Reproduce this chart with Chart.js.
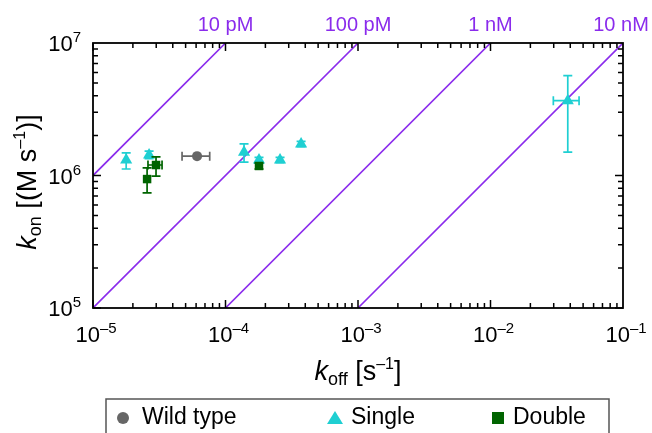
<!DOCTYPE html>
<html>
<head>
<meta charset="utf-8">
<script src="https://cdn.jsdelivr.net/npm/chart.js@4.4.1/dist/chart.umd.min.js"></script>
<style>
  html, body { margin: 0; padding: 0; background: #fff; }
  #wrap { width: 652px; height: 433px; }
</style>
</head>
<body>
<div id="wrap"><canvas id="grafica" width="652" height="433"></canvas></div>
<script>
// datos: koff [s^-1], kon [M^-1 s^-1], con limites de error
const wildKoff   = [6.1e-5];
const wildKon    = [1.40e6];
const wildKoffLo = [4.7e-5];
const wildKoffHi = [7.6e-5];
const wildKonLo  = [1.40e6];
const wildKonHi  = [1.40e6];

const singleKoff   = [1.78e-5, 2.65e-5, 1.38e-4, 1.79e-4, 2.58e-4, 3.72e-4, 3.83e-2];
const singleKon    = [1.31e6, 1.43e6, 1.50e6, 1.31e6, 1.31e6, 1.73e6, 3.67e6];
const singleKoffLo = [1.78e-5, 2.65e-5, 1.38e-4, 1.79e-4, 2.58e-4, 3.72e-4, 2.98e-2];
const singleKoffHi = [1.78e-5, 2.65e-5, 1.38e-4, 1.79e-4, 2.58e-4, 3.72e-4, 4.66e-2];
const singleKonLo  = [1.12e6, 1.34e6, 1.26e6, 1.25e6, 1.25e6, 1.65e6, 1.50e6];
const singleKonHi  = [1.48e6, 1.53e6, 1.73e6, 1.37e6, 1.37e6, 1.81e6, 5.67e6];

const doubleKoff   = [2.56e-5, 2.99e-5, 1.79e-4];
const doubleKon    = [9.4e5, 1.20e6, 1.18e6];
const doubleKoffLo = [2.56e-5, 2.60e-5, 1.79e-4];
const doubleKoffHi = [2.56e-5, 3.32e-5, 1.79e-4];
const doubleKonLo  = [7.4e5, 9.9e5, 1.12e6];
const doubleKonHi  = [1.14e6, 1.38e6, 1.24e6];

// lineas de KD constante (kon = koff / KD)
const kdValues = [1e-11, 1e-10, 1e-9, 1e-8];
const kdLabels = ['10 pM', '100 pM', '1 nM', '10 nM'];

// ticks
const xExps = [-5, -4, -3, -2, -1];
const yExps = [5, 6, 7];

const seriesNames = ['Wild type', 'Single', 'Double'];

// colores
const PURPLE = '#8a2bec';
const GRAY = '#666666';
const CYAN = '#1fcfd2';
const GREEN = '#006400';
const FONT = '"Liberation Sans", Arial, sans-serif';

function pts(xs, ys) {
    return xs.map((x, i) => ({ x: x, y: ys[i] }));
}

// datasets de las lineas diagonales (van debajo de los puntos)
const kdSets = kdValues.map(kd => ({
    type: 'line',
    data: [{ x: 1e-6, y: 1e-6 / kd }, { x: 1, y: 1 / kd }],
    borderColor: PURPLE,
    borderWidth: 1.6,
    pointRadius: 0,
    showLine: true,
    fill: false
}));

// texto con sub/superindices
function drawRich(ctx, parts, x, y, align) {
    let w = 0;
    parts.forEach(p => {
        ctx.font = (p[2] ? 'italic ' : '') + p[1] + 'px ' + FONT;
        w += ctx.measureText(p[0]).width;
    });
    let cx = x;
    if (align === 'center') cx = x - w / 2;
    if (align === 'right') cx = x - w;
    ctx.textAlign = 'left';
    ctx.textBaseline = 'alphabetic';
    parts.forEach(p => {
        ctx.font = (p[2] ? 'italic ' : '') + p[1] + 'px ' + FONT;
        ctx.fillText(p[0], cx, y + p[3]);
        cx += ctx.measureText(p[0]).width;
    });
}

function expText(n) {
    return n < 0 ? '\u2013' + (-n) : String(n);
}

// barras de error
const errorBars = {
    id: 'errorBars',
    beforeDatasetDraw(chart, args) {
        const ds = chart.data.datasets[args.index];
        if (!ds.err) return;
        const xs = chart.scales.x, ys = chart.scales.y, ctx = chart.ctx;
        const cap = 4.5;
        ctx.save();
        ctx.strokeStyle = ds.borderColor;
        ctx.lineWidth = 1.7;
        ds.data.forEach((p, i) => {
            const px = xs.getPixelForValue(p.x), py = ys.getPixelForValue(p.y);
            const x1 = xs.getPixelForValue(ds.err.xLo[i]);
            const x2 = xs.getPixelForValue(ds.err.xHi[i]);
            const y1 = ys.getPixelForValue(ds.err.yLo[i]);
            const y2 = ys.getPixelForValue(ds.err.yHi[i]);
            ctx.beginPath();
            if (x2 - x1 > 1) {
                ctx.moveTo(x1, py); ctx.lineTo(x2, py);
                ctx.moveTo(x1, py - cap); ctx.lineTo(x1, py + cap);
                ctx.moveTo(x2, py - cap); ctx.lineTo(x2, py + cap);
            }
            if (y1 - y2 > 1) {
                ctx.moveTo(px, y1); ctx.lineTo(px, y2);
                ctx.moveTo(px - cap, y1); ctx.lineTo(px + cap, y1);
                ctx.moveTo(px - cap, y2); ctx.lineTo(px + cap, y2);
            }
            ctx.stroke();
        });
        ctx.restore();
    }
};

// marco, ticks, etiquetas y leyenda
const decor = {
    id: 'decor',
    afterDraw(chart) {
        const ctx = chart.ctx, a = chart.chartArea;
        const xs = chart.scales.x, ys = chart.scales.y;
        ctx.save();

        // marco
        ctx.strokeStyle = '#000';
        ctx.lineWidth = 1.8;
        ctx.strokeRect(a.left, a.top, a.right - a.left, a.bottom - a.top);

        // ticks hacia dentro
        ctx.lineWidth = 1.5;
        ctx.beginPath();
        for (let d = xExps[0]; d < xExps[xExps.length - 1]; d++) {
            for (let m = 1; m <= 9; m++) {
                const px = xs.getPixelForValue(m * Math.pow(10, d));
                const len = m === 1 ? 8 : 5;
                ctx.moveTo(px, a.bottom); ctx.lineTo(px, a.bottom - len);
                ctx.moveTo(px, a.top); ctx.lineTo(px, a.top + len);
            }
        }
        for (let d = yExps[0]; d < yExps[yExps.length - 1]; d++) {
            for (let m = 1; m <= 9; m++) {
                const py = ys.getPixelForValue(m * Math.pow(10, d));
                const len = m === 1 ? 8 : 5;
                ctx.moveTo(a.left, py); ctx.lineTo(a.left + len, py);
                ctx.moveTo(a.right, py); ctx.lineTo(a.right - len, py);
            }
        }
        ctx.stroke();

        // etiquetas de ticks
        ctx.fillStyle = '#000';
        xExps.forEach(e => {
            const px = xs.getPixelForValue(Math.pow(10, e));
            drawRich(ctx, [['10', 22, false, 0], [expText(e), 15, false, -9]], px + 3, a.bottom + 34, 'center');
        });
        yExps.forEach(e => {
            const py = ys.getPixelForValue(Math.pow(10, e));
            drawRich(ctx, [['10', 22, false, 0], [expText(e), 15, false, -9]], a.left - 12, py + 8, 'right');
        });

        // titulos de ejes
        drawRich(ctx, [['k', 27, true, 0], ['off', 18, false, 5], [' [s', 27, false, 0],
            ['\u20131', 16, false, -11], [']', 27, false, 0]], (a.left + a.right) / 2, 380, 'center');
        ctx.save();
        ctx.translate(36, 182);
        ctx.rotate(-Math.PI / 2);
        drawRich(ctx, [['k', 27, true, 0], ['on', 18, false, 5], [' [(M s', 27, false, 0],
            ['\u20131', 16, false, -11], [')]', 27, false, 0]], 0, 0, 'center');
        ctx.restore();

        // etiquetas KD arriba
        ctx.fillStyle = PURPLE;
        ctx.font = '20px ' + FONT;
        ctx.textAlign = 'center';
        ctx.textBaseline = 'alphabetic';
        kdValues.forEach((kd, i) => {
            let px = xs.getPixelForValue(kd * ys.max);
            px = Math.min(px, chart.width - 31);
            ctx.fillText(kdLabels[i], px, 31);
        });

        // leyenda
        ctx.strokeStyle = '#555';
        ctx.lineWidth = 1.5;
        ctx.strokeRect(106, 399, 503, 60);
        const ly = 418;
        ctx.fillStyle = GRAY;
        ctx.beginPath(); ctx.arc(123, ly, 6, 0, Math.PI * 2); ctx.fill();
        ctx.fillStyle = CYAN;
        ctx.beginPath(); ctx.moveTo(335, ly - 7); ctx.lineTo(343, ly + 6); ctx.lineTo(327, ly + 6); ctx.closePath(); ctx.fill();
        ctx.fillStyle = GREEN;
        ctx.fillRect(492, ly - 6, 12, 12);
        ctx.fillStyle = '#000';
        ctx.font = '23px ' + FONT;
        ctx.textAlign = 'left';
        ctx.textBaseline = 'middle';
        ctx.fillText(seriesNames[0], 142, ly);
        ctx.fillText(seriesNames[1], 351, ly);
        ctx.fillText(seriesNames[2], 513, ly);

        ctx.restore();
    }
};

// Chart.js pinta el primer dataset encima: Double, Single, Wild type, luego las lineas
const ctx = document.getElementById('grafica').getContext('2d');
const chart = new Chart(ctx, {
    type: 'scatter',
    data: {
        datasets: [
            {
                label: seriesNames[2],
                data: pts(doubleKoff, doubleKon),
                err: { xLo: doubleKoffLo, xHi: doubleKoffHi, yLo: doubleKonLo, yHi: doubleKonHi },
                pointStyle: 'rect',
                pointRadius: 6,
                backgroundColor: GREEN,
                borderColor: GREEN,
                borderWidth: 0
            },
            {
                label: seriesNames[1],
                data: pts(singleKoff, singleKon),
                err: { xLo: singleKoffLo, xHi: singleKoffHi, yLo: singleKonLo, yHi: singleKonHi },
                pointStyle: 'triangle',
                pointRadius: 7,
                backgroundColor: CYAN,
                borderColor: CYAN,
                borderWidth: 0
            },
            {
                label: seriesNames[0],
                data: pts(wildKoff, wildKon),
                err: { xLo: wildKoffLo, xHi: wildKoffHi, yLo: wildKonLo, yHi: wildKonHi },
                pointStyle: 'circle',
                pointRadius: 5,
                backgroundColor: GRAY,
                borderColor: GRAY,
                borderWidth: 0
            }
        ].concat(kdSets)
    },
    options: {
        responsive: false,
        animation: false,
        layout: { padding: { left: 93, right: 29, top: 43, bottom: 125 } },
        plugins: { legend: { display: false }, tooltip: { enabled: false } },
        scales: {
            x: { type: 'logarithmic', min: 1e-5, max: 1e-1, display: false },
            y: { type: 'logarithmic', min: 1e5, max: 1e7, display: false }
        }
    },
    plugins: [errorBars, decor]
});
</script>
</body>
</html>
